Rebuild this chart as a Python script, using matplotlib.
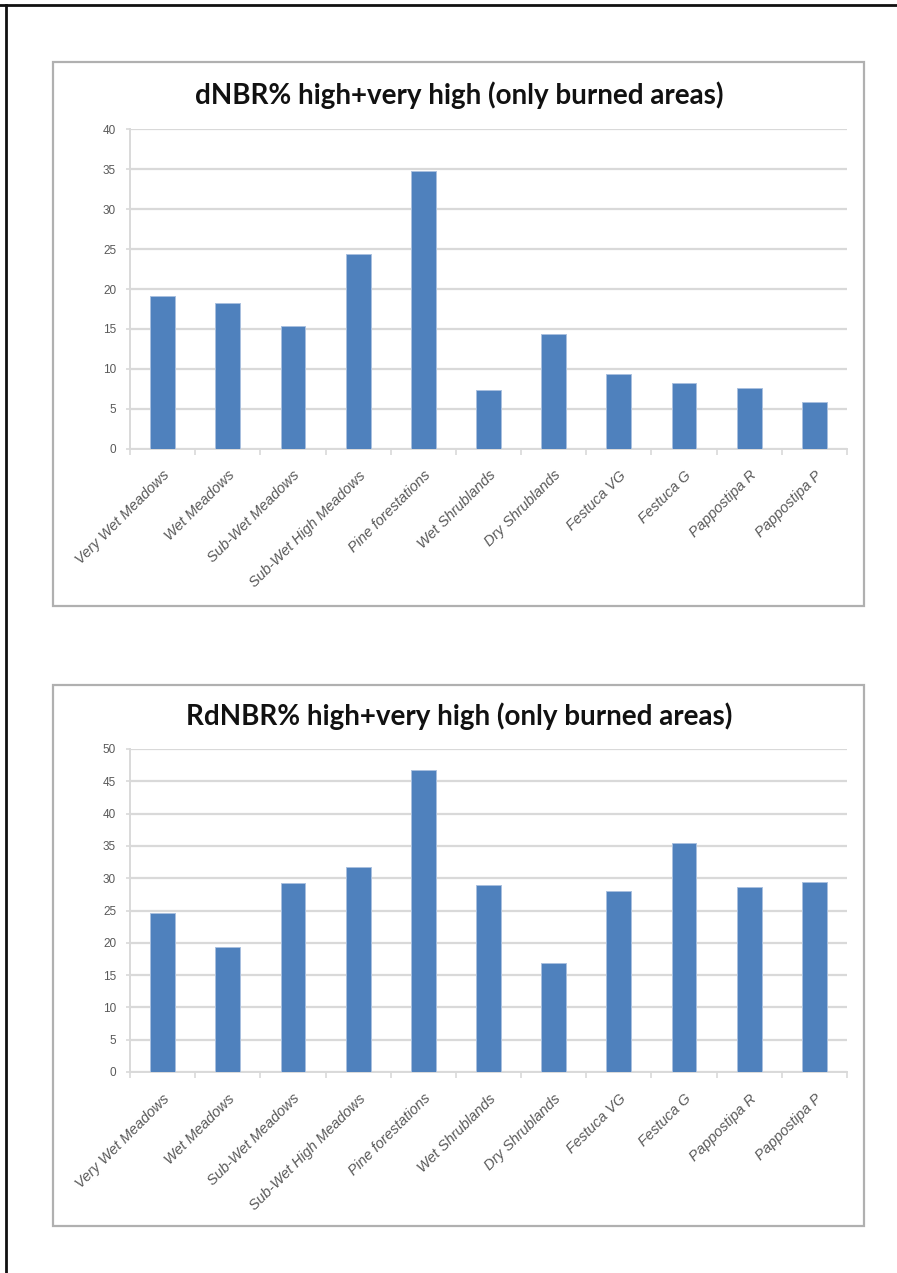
import matplotlib
matplotlib.use("Agg")
import matplotlib.pyplot as plt
from matplotlib.patches import Rectangle
from matplotlib.lines import Line2D
import numpy as np

W = 897
H = 1273

categories = ["Very Wet Meadows", "Wet Meadows", "Sub-Wet Meadows",
              "Sub-Wet High Meadows", "Pine forestations", "Wet Shrublands",
              "Dry Shrublands", "Festuca VG", "Festuca G", "Pappostipa R",
              "Pappostipa P"]
dnbr = [19.1, 18.2, 15.4, 24.4, 34.8, 7.4, 14.4, 9.3, 8.2, 7.6, 5.8]
rdnbr = [24.6, 19.4, 29.3, 31.7, 46.7, 29.0, 16.9, 28.0, 35.4, 28.6, 29.4]

BAR = "#4f81bd"
GRID = "#d9d9d9"
TXT = "#595959"

plt.rcParams["font.family"] = ["Liberation Sans", "DejaVu Sans"]

fig = plt.figure(figsize=(W / 100, H / 100), dpi=100)


def rect(x0, y0, x1, y1):
    # pixel box (top-left origin) -> figure fraction [l, b, w, h]
    return [x0 / W, 1 - y1 / H, (x1 - x0) / W, (y1 - y0) / H]


def frame(x0, y0, x1, y1):
    l, b, w, h = rect(x0, y0, x1, y1)
    fig.patches.append(Rectangle((l, b), w, h, transform=fig.transFigure,
                                 fill=False, edgecolor="#b0b0b0", lw=1.6))


def bar_chart(pos, values, ymax, title, title_y, title_size):
    ax = fig.add_axes(rect(*pos))
    x = np.arange(len(values))
    ax.bar(x, values, width=0.38, color=BAR, edgecolor="#a9c0df",
           linewidth=0.7, zorder=3)
    ax.set_xlim(-0.5, len(values) - 0.5)
    ax.set_ylim(0, ymax)
    ax.set_yticks(np.arange(0, ymax + 1, 5))
    ax.yaxis.grid(True, color=GRID, lw=1.6, zorder=0)
    ax.set_axisbelow(True)
    for s in ["top", "right"]:
        ax.spines[s].set_visible(False)
    for s in ["left", "bottom"]:
        ax.spines[s].set_color(GRID)
        ax.spines[s].set_linewidth(1.4)
    ax.tick_params(axis="y", length=3, color=GRID, width=1.2,
                   labelsize=8.5, labelcolor=TXT, pad=7)
    ax.set_xticks(x)
    ax.set_xticklabels(categories, rotation=45, ha="right",
                       rotation_mode="anchor", fontsize=10.5, color=TXT,
                       fontstyle="italic")
    ax.tick_params(axis="x", length=0, pad=14)
    ax.set_xticks(np.arange(-0.5, len(values), 1), minor=True)
    ax.tick_params(axis="x", which="minor", length=4, color=GRID, width=1.2)
    fig.text(459 / W, 1 - title_y / H, title,
             ha="center", va="center", fontsize=title_size,
             fontweight="bold", family="Lato", color="#111111")
    return ax


# page edges
fig.lines.append(Line2D([0, 1], [1 - 5 / H, 1 - 5 / H],
                        transform=fig.transFigure, color="#111111", lw=2))
fig.lines.append(Line2D([6 / W, 6 / W], [0, 1 - 5 / H],
                        transform=fig.transFigure, color="#111111", lw=2))

frame(53, 62, 863.5, 606)
frame(53, 685, 863.5, 1226)

bar_chart((130, 129.3, 847, 448.7), dnbr, 40,
          "dNBR% high+very high (only burned areas)", 95, 20)
bar_chart((130, 749, 847, 1072), rdnbr, 50,
          "RdNBR% high+very high (only burned areas)", 716, 20)

fig.savefig("out.png", dpi=100)
